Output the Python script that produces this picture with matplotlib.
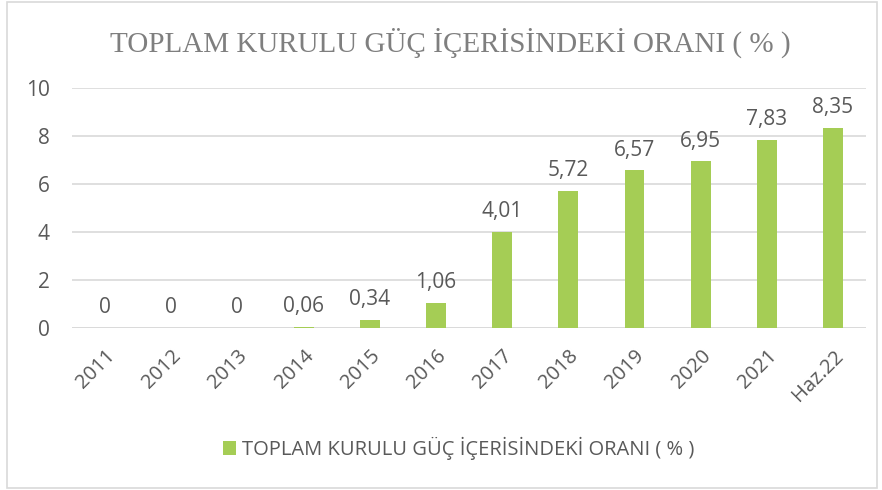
import numpy as np
import matplotlib.pyplot as plt
from matplotlib.patches import Rectangle

# veri
years = ["2011", "2012", "2013", "2014", "2015", "2016", "2017",
         "2018", "2019", "2020", "2021", "Haz.22"]
oran = [0, 0, 0, 0.06, 0.34, 1.06, 4.01, 5.72, 6.57, 6.95, 7.83, 8.35]
oran_labels = ["0", "0", "0", "0,06", "0,34", "1,06", "4,01",
               "5,72", "6,57", "6,95", "7,83", "8,35"]
title = "TOPLAM KURULU GÜÇ İÇERİSİNDEKİ ORANI ( % )"

bar_color = "#A5CD55"
text_color = "#595959"

plt.rcParams['font.family'] = ['Open Sans', 'DejaVu Sans']

fig = plt.figure(figsize=(8.82, 4.9), dpi=100)
ax = fig.add_axes([0.0816, 0.3306, 0.9004, 0.4898])

x = np.arange(len(years))
bars = ax.bar(x, oran, width=0.3, color=bar_color, label=title, zorder=3)

for xi, v, lab in zip(x, oran, oran_labels):
    ax.text(xi, v + 0.4, lab, ha='center', va='bottom', fontsize=15, color=text_color)

ax.set_xlim(-0.5, len(years) - 0.5)
ax.set_ylim(0, 10)
ax.set_yticks(np.arange(0, 11, 2))
ax.set_xticks(x)
ax.set_xticklabels(years, rotation=45, ha='right', rotation_mode='anchor')
ax.tick_params(axis='x', length=0, pad=13, labelsize=14.5, labelcolor=text_color)
ax.tick_params(axis='y', length=0, pad=16, labelsize=15, labelcolor=text_color)
ax.grid(axis='y', color="#D9D9D9", linewidth=1.2, zorder=0)
for s in ax.spines.values():
    s.set_visible(False)
ax.axhline(0, color="#D9D9D9", linewidth=1.2, zorder=1)

fig.text(0.51, 0.912, title, ha='center', va='center', fontsize=21,
         color="#7F7F7F", family='Liberation Serif')

fig.legend(handles=[bars], labels=[title], loc='center', bbox_to_anchor=(0.52, 0.085),
           frameon=False, fontsize=14.5, labelcolor=text_color,
           handlelength=0.65, handleheight=0.65, handletextpad=0.25)

fig.patches.append(Rectangle((0.008, 0.005), 0.986, 0.99, transform=fig.transFigure,
                             fill=False, edgecolor="#D9D9D9", linewidth=1.2))

plt.savefig("out.png", dpi=100)
